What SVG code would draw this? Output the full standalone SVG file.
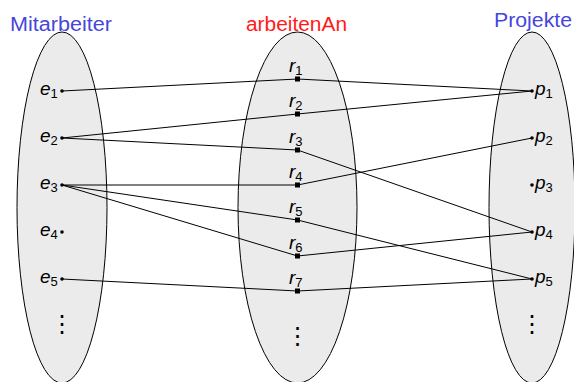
<svg xmlns="http://www.w3.org/2000/svg" width="574" height="382" viewBox="0 0 574 382">
<style>
.set{fill:#ebebeb;stroke:#000;stroke-width:1}
.title{font-family:"Liberation Sans",Arial,sans-serif;font-size:20px}
.lbl{font-family:"Liberation Sans",Arial,sans-serif;font-size:19px;font-style:italic;fill:#000}
.sub{font-size:13px;font-style:normal}
.dot{fill:#000}
.sq{fill:#000}
.vd{font-family:"DejaVu Sans",sans-serif;font-size:24px;fill:#000;text-anchor:middle}
#connectors line{stroke:#000;stroke-width:1}
</style>
<rect width="574" height="382" fill="#fff"/>
<g id="sets">
<ellipse id="set-mitarbeiter" class="set" cx="62" cy="207.5" rx="45" ry="175.5"/>
<ellipse id="set-arbeitenAn" class="set" cx="297.5" cy="207.5" rx="59.5" ry="175.5"/>
<ellipse id="set-projekte" class="set" cx="532" cy="207.5" rx="43" ry="175.5"/>
</g>
<g id="titles">
<text class="title" x="10" y="31" fill="#4646dc" textLength="102" lengthAdjust="spacingAndGlyphs">Mitarbeiter</text>
<text class="title" x="246" y="31" fill="#ff1a1a" textLength="101" lengthAdjust="spacingAndGlyphs">arbeitenAn</text>
<text class="title" x="494" y="27" fill="#4646dc" textLength="78" lengthAdjust="spacingAndGlyphs">Projekte</text>
</g>
<g id="connectors">
<line x1="62" y1="91" x2="297.5" y2="79"/>
<line x1="297.5" y1="79" x2="532" y2="91"/>
<line x1="62" y1="138" x2="297.5" y2="114"/>
<line x1="297.5" y1="114" x2="532" y2="91"/>
<line x1="62" y1="138" x2="297.5" y2="150"/>
<line x1="297.5" y1="150" x2="532" y2="232"/>
<line x1="62" y1="185" x2="297.5" y2="185"/>
<line x1="297.5" y1="185" x2="532" y2="138"/>
<line x1="62" y1="185" x2="297.5" y2="220"/>
<line x1="297.5" y1="220" x2="532" y2="279"/>
<line x1="62" y1="185" x2="297.5" y2="256"/>
<line x1="297.5" y1="256" x2="532" y2="232"/>
<line x1="62" y1="279" x2="297.5" y2="291"/>
<line x1="297.5" y1="291" x2="532" y2="279"/>
</g>
<g id="e1"><circle class="dot" cx="62" cy="91" r="1.8"/><text class="lbl" x="40" y="95">e<tspan class="sub" dy="3">1</tspan></text></g>
<g id="e2"><circle class="dot" cx="62" cy="138" r="1.8"/><text class="lbl" x="40" y="142">e<tspan class="sub" dy="3">2</tspan></text></g>
<g id="e3"><circle class="dot" cx="62" cy="185" r="1.8"/><text class="lbl" x="40" y="189">e<tspan class="sub" dy="3">3</tspan></text></g>
<g id="e4"><circle class="dot" cx="62" cy="232" r="1.8"/><text class="lbl" x="40" y="236">e<tspan class="sub" dy="3">4</tspan></text></g>
<g id="e5"><circle class="dot" cx="62" cy="279" r="1.8"/><text class="lbl" x="40" y="283">e<tspan class="sub" dy="3">5</tspan></text></g>
<g id="e-more"><text class="vd" x="62" y="332">⋮</text></g>
<g id="r1"><rect class="sq" x="295" y="76.5" width="5" height="5"/><text class="lbl" x="289" y="72">r<tspan class="sub" dy="3">1</tspan></text></g>
<g id="r2"><rect class="sq" x="295" y="111.5" width="5" height="5"/><text class="lbl" x="289" y="107">r<tspan class="sub" dy="3">2</tspan></text></g>
<g id="r3"><rect class="sq" x="295" y="147.5" width="5" height="5"/><text class="lbl" x="289" y="143">r<tspan class="sub" dy="3">3</tspan></text></g>
<g id="r4"><rect class="sq" x="295" y="182.5" width="5" height="5"/><text class="lbl" x="289" y="178">r<tspan class="sub" dy="3">4</tspan></text></g>
<g id="r5"><rect class="sq" x="295" y="217.5" width="5" height="5"/><text class="lbl" x="289" y="213">r<tspan class="sub" dy="3">5</tspan></text></g>
<g id="r6"><rect class="sq" x="295" y="253.5" width="5" height="5"/><text class="lbl" x="289" y="249">r<tspan class="sub" dy="3">6</tspan></text></g>
<g id="r7"><rect class="sq" x="295" y="288.5" width="5" height="5"/><text class="lbl" x="289" y="284">r<tspan class="sub" dy="3">7</tspan></text></g>
<g id="r-more"><text class="vd" x="297.5" y="344">⋮</text></g>
<g id="p1"><circle class="dot" cx="532" cy="91" r="1.8"/><text class="lbl" x="535" y="95">p<tspan class="sub" dy="3">1</tspan></text></g>
<g id="p2"><circle class="dot" cx="532" cy="138" r="1.8"/><text class="lbl" x="535" y="142">p<tspan class="sub" dy="3">2</tspan></text></g>
<g id="p3"><circle class="dot" cx="532" cy="185" r="1.8"/><text class="lbl" x="535" y="189">p<tspan class="sub" dy="3">3</tspan></text></g>
<g id="p4"><circle class="dot" cx="532" cy="232" r="1.8"/><text class="lbl" x="535" y="236">p<tspan class="sub" dy="3">4</tspan></text></g>
<g id="p5"><circle class="dot" cx="532" cy="279" r="1.8"/><text class="lbl" x="535" y="283">p<tspan class="sub" dy="3">5</tspan></text></g>
<g id="p-more"><text class="vd" x="532" y="332">⋮</text></g>
</svg>
